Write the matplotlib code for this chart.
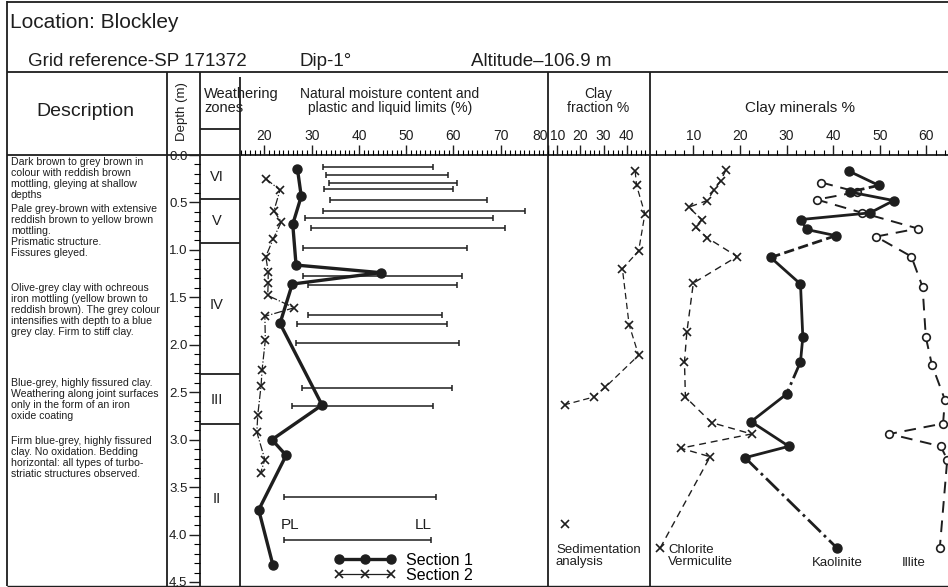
import matplotlib
matplotlib.use("Agg")
import matplotlib.pyplot as plt
import numpy as np
from matplotlib.lines import Line2D
from matplotlib.ticker import MultipleLocator, FixedLocator

plt.rcParams['font.family'] = ['Liberation Sans', 'DejaVu Sans']

W, H = 948, 587
INK = '#1e1e1e'

# natural moisture content (%) against depth (m)
sec1_depth = [0.15, 0.435, 0.73, 1.16, 1.24, 1.36, 1.775, 2.635, 3.0, 3.165, 3.74, 4.32]
sec1_moist = [27.0, 27.8, 26.0, 26.7, 44.6, 25.9, 23.3, 32.2, 21.6, 24.6, 18.8, 21.8]
sec2_depth = [0.25, 0.37, 0.59, 0.705, 0.88, 1.07, 1.23, 1.35, 1.48, 1.61, 1.70, 1.95,
              2.27, 2.43, 2.74, 2.92, 3.21, 3.35]
sec2_moist = [20.3, 23.3, 22.0, 23.6, 21.9, 20.3, 20.8, 20.8, 20.7, 26.3, 20.1, 20.2,
              19.5, 19.3, 18.6, 18.4, 20.1, 19.2]

# plastic / liquid limits
lim_depth = [0.125, 0.214, 0.29, 0.36, 0.477, 0.59, 0.66, 0.765, 0.975, 1.27, 1.375,
             1.69, 1.785, 1.985, 2.46, 2.64, 3.6]
plastic = [32.5, 33.0, 33.7, 32.7, 33.9, 32.5, 28.6, 29.9, 28.2, 28.1, 29.2,
           29.2, 26.9, 26.6, 28.0, 25.8, 24.2]
liquid = [55.7, 58.8, 60.8, 59.8, 67.0, 75.1, 68.3, 71.0, 62.9, 61.8, 60.8,
          57.5, 58.7, 61.1, 59.7, 55.7, 56.3]
key_pl, key_ll, key_depth = 24.1, 55.2, 4.06

# clay fraction %
clay_depth = [0.17, 0.32, 0.62, 1.01, 1.20, 1.79, 2.11, 2.45, 2.55, 2.63]
clay_frac = [43.6, 44.2, 47.8, 45.1, 38.1, 41.0, 45.1, 30.6, 25.8, 13.5]

# clay minerals %
kao_depth = [0.17, 0.32, 0.39, 0.48, 0.61, 0.68, 0.785, 0.85, 1.08, 1.36, 1.92, 2.18,
             2.52, 2.81, 3.07, 3.19, 4.14]
kao_pct = [43.4, 49.8, 43.6, 53.0, 47.9, 33.1, 34.3, 40.6, 26.6, 33.0, 33.5, 33.0,
           30.0, 22.4, 30.5, 21.1, 40.8]
kao_links = ['-', '--', '-', '-', '-', '-', '-', '--', '-', '-', '-', '-.', '-', '-', '-', '-.']
ill_depth = [0.29, 0.39, 0.47, 0.61, 0.775, 0.86, 1.07, 1.39, 1.92, 2.21, 2.58, 2.83,
             2.94, 3.07, 3.21, 4.14]
ill_pct = [37.5, 45.2, 36.5, 46.3, 58.2, 49.2, 56.8, 59.2, 59.9, 61.2, 64.0, 63.6,
           52.1, 63.1, 64.5, 62.9]
chl_depth = [0.155, 0.27, 0.37, 0.48, 0.55, 0.68, 0.76, 0.87, 1.07, 1.35, 1.87, 2.18,
             2.55, 2.82, 2.94, 3.09, 3.18, 4.14]
chl_pct = [17.0, 15.9, 14.4, 13.0, 9.0, 11.8, 10.5, 12.9, 19.4, 10.0, 8.6, 8.1,
           8.3, 13.9, 22.5, 7.3, 13.6, 2.9]

# weathering zones
zone_bounds = [0.46, 0.93, 2.31, 2.83]
zone_mid = [0.23, 0.70, 1.58, 2.58, 3.63]
zone_names = ['VI', 'V', 'IV', 'III', 'II']

descriptions = [
    (157, "Dark brown to grey brown in\ncolour with reddish brown\nmottling, gleying at shallow\ndepths"),
    (204, "Pale grey-brown with extensive\nreddish brown to yellow brown\nmottling.\nPrismatic structure.\nFissures gleyed."),
    (283, "Olive-grey clay with ochreous\niron mottling (yellow brown to\nreddish brown). The grey colour\nintensifies with depth to a blue\ngrey clay. Firm to stiff clay."),
    (378, "Blue-grey, highly fissured clay.\nWeathering along joint surfaces\nonly in the form of an iron\noxide coating"),
    (436, "Firm blue-grey, highly fissured\nclay. No oxidation. Bedding\nhorizontal: all types of turbo-\nstriatic structures observed."),
]

fig = plt.figure(figsize=(W / 100, H / 100), dpi=100)

# background in pixel coordinates for the frame and the header
bg = fig.add_axes([0, 0, 1, 1], zorder=0)
bg.set_xlim(0, W)
bg.set_ylim(H, 0)
bg.axis('off')

def hline(y, x0, x1, lw=1.3):
    bg.plot([x0, x1], [y, y], color=INK, lw=lw, solid_capstyle='butt')

def vline(x, y0, y1, lw=1.3):
    bg.plot([x, x], [y0, y1], color=INK, lw=lw, solid_capstyle='butt')

hline(1.5, 7, W)
hline(72, 7, W)
hline(155, 7, W)
hline(129, 200, 240)
hline(586, 7, W, lw=1.0)
vline(7.5, 1, 586)
for x in (167, 200, 548, 650):
    vline(x, 72, 586)
vline(240, 77, 586)

bg.text(10, 22, "Location: Blockley", fontsize=15, va='center', color=INK)
bg.text(28, 62, "Grid reference-SP 171372", fontsize=13.5, va='center', color=INK)
bg.text(300, 62, "Dip-1°", fontsize=13.5, va='center', color=INK)
bg.text(471, 62, "Altitude\u2013106.9 m", fontsize=13.5, va='center', color=INK)

bg.text(85, 112, "Description", fontsize=14, ha='center', va='center', color=INK)
bg.text(182, 112, "Depth (m)", fontsize=9.5, rotation=90, ha='center', va='center', color=INK)
bg.text(204, 101, "Weathering\nzones", fontsize=10.5, va='center', linespacing=0.95, color=INK)
bg.text(390, 101, "Natural moisture content and\nplastic and liquid limits (%)", fontsize=10,
        ha='center', va='center', linespacing=0.95, color=INK)
bg.text(598, 101, "Clay\nfraction %", fontsize=10, ha='center', va='center',
        linespacing=0.95, color=INK)
bg.text(800, 108, "Clay minerals %", fontsize=11, ha='center', va='center', color=INK)

for top, txt in descriptions:
    bg.text(11, top, txt, fontsize=7.6, va='top', linespacing=1.12, color=INK)

# key texts
bg.text(281, 525, "PL", fontsize=11, va='center', color=INK)
bg.text(432, 525, "LL", fontsize=11, ha='right', va='center', color=INK)
bg.text(556, 556, "Sedimentation\nanalysis", fontsize=9.5, va='center', linespacing=0.95, color=INK)
bg.text(668, 556, "Chlorite\nVermiculite", fontsize=9.5, va='center', linespacing=0.95, color=INK)
bg.text(837, 563, "Kaolinite", fontsize=9.5, ha='center', va='center', color=INK)
bg.text(914, 563, "Illite", fontsize=9.5, ha='center', va='center', color=INK)


def panel(x0, x1, y0=155, y1=582):
    ax = fig.add_axes([x0 / W, 1 - y1 / H, (x1 - x0) / W, (y1 - y0) / H], zorder=2)
    ax.set_facecolor('none')
    for s in ax.spines.values():
        s.set_visible(False)
    ax.set_ylim(4.5, 0)
    ax.tick_params(colors=INK)
    return ax


def top_ticks(ax, major, minor):
    ax.xaxis.tick_top()
    ax.set_xticks(major)
    ax.xaxis.set_minor_locator(FixedLocator(minor))
    ax.tick_params(axis='x', which='major', direction='out', length=7, width=1,
                   pad=2, labelsize=10)
    ax.tick_params(axis='x', which='minor', direction='out', length=3.5, width=0.8)
    ax.set_yticks([])


# depth scale and weathering zones
axw = panel(200, 240)
axw.set_xlim(0, 1)
axw.set_xticks([])
axw.yaxis.set_major_locator(MultipleLocator(0.5))
axw.yaxis.set_minor_locator(MultipleLocator(0.1))
axw.yaxis.set_major_formatter('{x:.1f}')
axw.tick_params(axis='y', which='major', direction='out', length=8, width=1, pad=1, labelsize=9.5)
axw.tick_params(axis='y', which='minor', direction='out', length=4, width=0.8)
for b in zone_bounds:
    axw.axhline(b, color=INK, lw=1.3)
for d, name in zip(zone_mid, zone_names):
    axw.text(0.42, d, name, fontsize=10.5, ha='center', va='center', color=INK)

# moisture content panel
axm = panel(240, 548)
axm.set_xlim(14.84, 80.0)
top_ticks(axm, np.arange(20, 81, 10), np.arange(15, 81, 1))
axm.get_xticklabels()[-1].set_horizontalalignment('right')
pl = np.array(plastic)
ll = np.array(liquid)
axm.errorbar(pl, lim_depth, xerr=[np.zeros_like(pl), ll - pl], fmt='none',
             ecolor=INK, elinewidth=1.1, capsize=2.5, capthick=1.1)
axm.errorbar([key_pl], [key_depth], xerr=[[0], [key_ll - key_pl]], fmt='none',
             ecolor=INK, elinewidth=1.1, capsize=2.5, capthick=1.1)
axm.plot(sec2_moist, sec2_depth, color=INK, lw=0.9, ls='-.', marker='x', ms=6, mew=1.2)
axm.plot(sec1_moist, sec1_depth, color=INK, lw=2.4, marker='o', ms=6.5)
handles = [Line2D([], [], color=INK, lw=2.4, marker='o', ms=6.5),
           Line2D([], [], color=INK, lw=0.9, marker='x', ms=6, mew=1.2)]
axm.legend(handles, ['Section 1', 'Section 2'], loc='upper left',
           bbox_to_anchor=(0.305, 0.069), frameon=False, fontsize=11.5, numpoints=3,
           handlelength=3.9, handletextpad=0.6, labelspacing=0.0, borderpad=0,
           borderaxespad=0)

# clay fraction panel
axc = panel(548, 650)
axc.set_xlim(6.0, 50.0)
top_ticks(axc, [10, 20, 30, 40], np.arange(6, 50, 2))
axc.plot(clay_frac, clay_depth, color=INK, lw=0.9, dashes=(5, 3), marker='x', ms=6, mew=1.2)
axc.plot([13.5], [3.89], color=INK, marker='x', ms=6, mew=1.2, ls='none')

# clay minerals panel
axk = panel(650, 948)
axk.set_xlim(0.7, 64.66)
top_ticks(axk, np.arange(10, 61, 10), np.arange(2, 65, 2))
axk.plot(chl_pct, chl_depth, color=INK, lw=1.0, dashes=(5, 3.5), marker='x', ms=6, mew=1.2)
axk.plot(ill_pct, ill_depth, color=INK, lw=1.4, dashes=(6, 4), marker='o', ms=5.5,
         mfc='white', mec=INK, mew=1.2)
for i, style in enumerate(kao_links):
    axk.plot(kao_pct[i:i + 2], kao_depth[i:i + 2], color=INK, lw=2.0, ls=style)
axk.plot(kao_pct, kao_depth, color=INK, ls='none', marker='o', ms=6.5)

fig.savefig('out.png', dpi=100)
